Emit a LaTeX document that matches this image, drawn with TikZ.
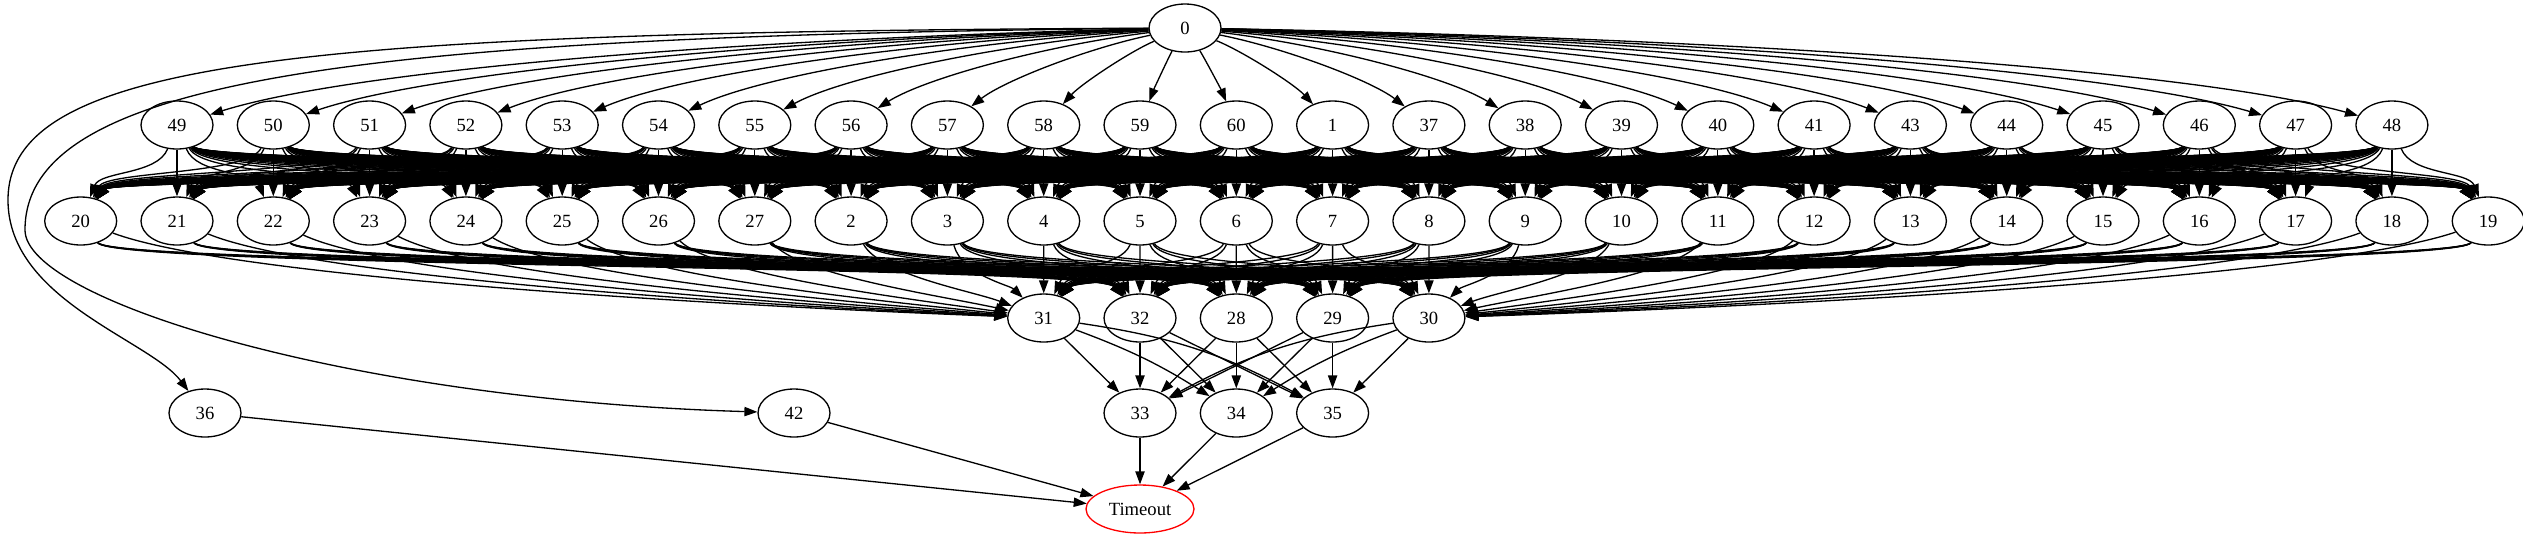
\documentclass[tikz,border=0pt]{standalone}
\usepackage{fontspec}
\setmainfont{Liberation Serif}
\usetikzlibrary{arrows.meta,shapes.geometric}
\begin{document}
\begin{tikzpicture}[x=0.02cm, y=-0.02cm, line width=0.75pt, >={Triangle[length=7.4pt,width=5.3pt]},
  main/.style = {draw, ellipse, minimum width=1.44cm, minimum height=0.96cm, inner sep=0pt, font=\fontsize{10.6}{12}\selectfont},
  stop/.style = {main, draw=red, minimum width=2.16cm}]
\useasboundingbox (0,0) rectangle (2523,539);
\node[main] (n0) at (1185,28) {0};
\foreach \a [count=\i from 0] in {49,50,51,52,53,54,55,56,57,58,59,60,1,37,38,39,40,41,43,44,45,46,47,48}
  \node[main] (n\a) at ({177+96.3*\i},125) {\a};
\foreach \a [count=\i from 0] in {20,21,22,23,24,25,26,27,2,3,4,5,6,7,8,9,10,11,12,13,14,15,16,17,18,19}
  \node[main] (n\a) at ({80.7+96.3*\i},221) {\a};
\foreach \a/\x in {31/1043.7,32/1140,28/1236.3,29/1332.6,30/1428.9}
  \node[main] (n\a) at (\x,318) {\a};
\foreach \a/\x in {36/205,42/794,33/1140,34/1236.3,35/1332.6}
  \node[main] (n\a) at (\x,413) {\a};
\node[stop] (timeout) at (1140,509) {Timeout};

\foreach \a [count=\i from 0] in {49,50,51,52,53,54,55,56,57,58,59,60,1,37,38,39,40,41,43,44,45,46,47,48} {
  \pgfmathsetmacro\xb{177+96.3*\i}
  \pgfmathsetmacro\dx{\xb-1185}
  \pgfmathsetmacro\w{abs(\dx)/(abs(\dx)+300)}
  \draw[->] (n0) .. controls ({1185+(1-\w)*\dx/3+\w*0.5*\dx},{28+(1-\w)*32+\w*5})
    and ({\xb-(1-\w)*\dx/3-\w*0.12*\dx},{125-(1-\w)*32-\w*60}) .. (n\a);
}
\draw[->] (n0) .. controls (300,32) and (8,60) .. (8,200) .. controls (8,300) and (150,340) .. (n36);
\draw[->] (n0) .. controls (350,36) and (25,80) .. (25,230) .. controls (25,300) and (350,400) .. (n42);

\foreach \a [count=\i from 0] in {49,50,51,52,53,54,55,56,57,58,59,60,1,37,38,39,40,41,43,44,45,46,47,48} {
  \foreach \b [count=\j from 0] in {20,21,22,23,24,25,26,27,2,3,4,5,6,7,8,9,10,11,12,13,14,15,16,17,18,19} {
    \pgfmathsetmacro\xa{177+96.3*\i}
    \pgfmathsetmacro\xb{80.7+96.3*\j}
    \pgfmathsetmacro\f{40*((\xb-\xa)/(abs(\xb-\xa)+100))}
    \draw[->] (n\a) .. controls ({\xa+\f},175) and ({\xb-\f},171) .. (n\b);
  }
}

% edges into 31 from the left and 30 from the right come in flat, the rest cross the band
\foreach \a [count=\i from 0] in {20,21,22,23,24,25,26,27,2,3,4,5,6,7,8,9,10,11,12,13,14,15,16,17,18,19} {
  \foreach \b/\xb in {31/1043.7,32/1140,28/1236.3,29/1332.6,30/1428.9} {
    \pgfmathsetmacro\xa{80.7+96.3*\i}
    \pgfmathsetmacro\dx{\xb-\xa}
    \pgfmathsetmacro\w{abs(\dx)/(abs(\dx)+200)}
    \pgfmathsetmacro\f{40*(\dx/(abs(\dx)+100))}
    \pgfmathsetmacro\h{and(\b==31,\dx>1)+and(\b==30,\dx<-1)}
    \draw[->] (n\a) .. controls ({\h*(\xa+0.15*\dx)+(1-\h)*(\xa+\f)},{\h*275+(1-\h)*268})
      and ({\h*(\xb-0.4*\w*\dx-(1-\w)*\dx/3)+(1-\h)*(\xb-1.2*\f)},{\h*(318-45*(1-\w)-8*\w)+(1-\h)*265}) .. (n\b);
  }
}

\foreach \a/\b in {31/33,32/33,32/34,32/35,28/33,28/34,28/35,29/33,29/34,29/35,30/35}
  \draw[->] (n\a) -- (n\b);
\draw[->] (n31) to[bend left=6] (n34);
\draw[->] (n31) to[bend left=10] (n35);
\draw[->] (n30) to[bend right=6] (n34);
\draw[->] (n30) to[bend right=10] (n33);

\foreach \a in {33,34,35,36,42}
  \draw[->] (n\a) -- (timeout);
\end{tikzpicture}
\end{document}
